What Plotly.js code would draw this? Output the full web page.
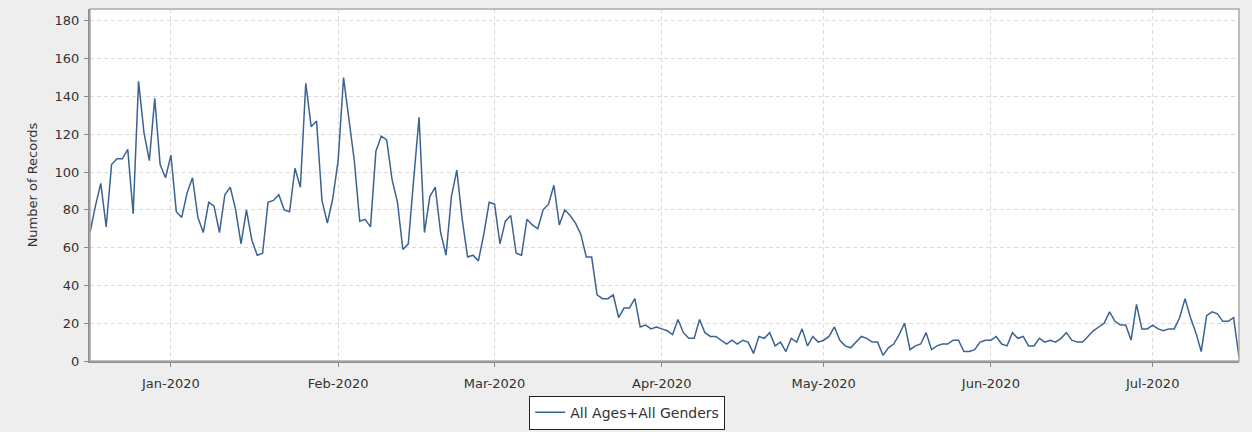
<!DOCTYPE html>
<html>
<head>
<meta charset="utf-8">
<script src="https://cdn.plot.ly/plotly-3.0.1.min.js"></script>
<style>
  html, body { margin: 0; padding: 0; background: #eeeeee; }
  #chart { width: 1252px; height: 432px; }
</style>
</head>
<body>
<div id="chart"></div>
<script>
// First date of the daily series; one value per day follows.
const startDate = "2019-12-17";
const seriesName = "All Ages+All Genders";
const records = [
  68, 82, 94, 71, 104, 107, 107, 112, 78, 148, 121, 106, 139, 104, 97,
  109, 79, 76, 89, 97, 76, 68, 84, 82, 68, 88, 92, 80, 62, 80, 64, 56, 57,
  84, 85, 88, 80, 79, 102, 92, 147, 124, 127, 85, 73, 86, 106,
  150, 128, 106, 74, 75, 71, 111, 119, 117, 96, 84, 59, 62, 96, 129, 68,
  87, 92, 68, 56, 87, 101, 75, 55, 56, 53, 67, 84,
  83, 62, 74, 77, 57, 56, 75, 72, 70, 80, 83, 93, 72, 80, 77, 73, 67, 55,
  55, 35, 33, 33, 35, 23, 28, 28, 33, 18, 19, 17, 18,
  17, 16, 14, 22, 15, 12, 12, 22, 15, 13, 13, 11, 9, 11, 9, 11, 10, 4,
  13, 12, 15, 8, 10, 5, 12, 10, 17, 8, 13, 10,
  11, 13, 18, 11, 8, 7, 10, 13, 12, 10, 10, 3, 7, 9, 14, 20, 6, 8, 9,
  15, 6, 8, 9, 9, 11, 11, 5, 5, 6, 10,
  11, 11, 13, 9, 8, 15, 12, 13, 8, 8, 12, 10, 11, 10, 12, 15, 11, 10, 10,
  13, 16, 18, 20, 26, 21, 19, 19, 11, 30, 17,
  17, 19, 17, 16, 17, 17, 23, 33, 23, 15, 5, 24, 26, 25, 21, 21, 23, 2
];
const xTickValues = ["2020-01-01", "2020-02-01", "2020-03-01", "2020-04-01", "2020-05-01", "2020-06-01", "2020-07-01"];
const xTickLabels = ["Jan-2020", "Feb-2020", "Mar-2020", "Apr-2020", "May-2020", "Jun-2020", "Jul-2020"];
const yTickValues = [0, 20, 40, 60, 80, 100, 120, 140, 160, 180];

function isoDay(base, offset) {
  const d = new Date(base + "T00:00:00Z");
  d.setUTCDate(d.getUTCDate() + offset);
  return d.toISOString().slice(0, 10);
}
const dates = records.map((_, i) => isoDay(startDate, i));

const tickFont = { family: "DejaVu Sans, sans-serif", size: 13, color: "#333333" };

const trace = {
  type: "scatter",
  mode: "lines",
  x: dates,
  y: records,
  name: seriesName,
  line: { color: "#3b6391", width: 1.5 },
  showlegend: true
};

const layout = {
  width: 1252,
  height: 432,
  margin: { l: 90, r: 13, t: 9, b: 71, autoexpand: false },
  paper_bgcolor: "#eeeeee",
  plot_bgcolor: "#ffffff",
  font: tickFont,
  showlegend: true,
  xaxis: {
    type: "date",
    range: [dates[0], dates[dates.length - 1]],
    tickvals: xTickValues,
    ticktext: xTickLabels,
    showgrid: true,
    gridcolor: "#dadada",
    griddash: "4px,3px",
    gridwidth: 1,
    ticks: "outside",
    ticklen: 4,
    tickcolor: "#888888",
    ticklabelstandoff: 5,
    showline: true,
    linecolor: "#8c8c8c",
    linewidth: 2,
    zeroline: false,
    automargin: false,
    tickfont: tickFont
  },
  yaxis: {
    range: [0, 186.3],
    tickvals: yTickValues,
    showgrid: true,
    gridcolor: "#dadada",
    griddash: "4px,3px",
    gridwidth: 1,
    ticks: "outside",
    ticklen: 4,
    tickcolor: "#888888",
    ticklabelstandoff: 2,
    showline: true,
    linecolor: "#8c8c8c",
    linewidth: 2,
    zeroline: false,
    automargin: false,
    tickfont: tickFont,
    title: { text: "Number of Records", font: tickFont, standoff: 14 }
  },
  legend: {
    orientation: "h",
    xref: "container",
    yref: "container",
    x: 0.501,
    xanchor: "center",
    y: 0.084,
    yanchor: "top",
    bgcolor: "#ffffff",
    bordercolor: "#222222",
    borderwidth: 1,
    itemwidth: 30,
    font: { family: "DejaVu Sans, sans-serif", size: 14, color: "#333333" }
  },
  shapes: [{
    type: "rect", xref: "paper", yref: "paper", x0: 0, x1: 1, y0: 0, y1: 1,
    line: { color: "#aaaaaa", width: 1.5 }, fillcolor: "rgba(0,0,0,0)", layer: "above"
  }]
};

Plotly.newPlot("chart", [trace], layout, { staticPlot: true, displayModeBar: false });
</script>
</body>
</html>
